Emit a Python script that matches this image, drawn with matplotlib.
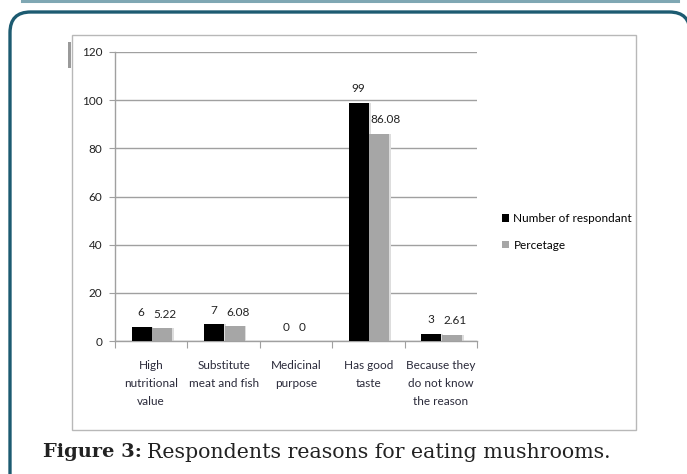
import matplotlib.pyplot as plt
import numpy as np
from matplotlib.patches import FancyBboxPatch, Rectangle
from matplotlib.lines import Line2D

# Data
categories = ["High\nnutritional\nvalue", "Substitute\nmeat and fish", "Medicinal\npurpose",
              "Has good\ntaste", "Because they\ndo not know\nthe reason"]
respondents = [6, 7, 0, 99, 3]
percentage = [5.22, 6.08, 0, 86.08, 2.61]
respondentLabels = ["6", "7", "0", "99", "3"]
percentageLabels = ["5.22", "6.08", "0", "86.08", "2.61"]
yTicks = [0, 20, 40, 60, 80, 100, 120]
seriesNames = ["Number of respondant", "Percetage"]

W, H = 687, 474
fig = plt.figure(figsize=(W / 100, H / 100), dpi=100)
fig.patch.set_facecolor("white")


def px(x, y):
    # pixel coords (top-left origin) -> figure fraction
    return x / W, 1 - y / H


# Page decorations: line from previous box and rounded teal frame
fig.add_artist(Line2D([22 / W, 678 / W], [1 - 1 / H, 1 - 1 / H], color="#7fa7b3", lw=2.2,
                      transform=fig.transFigure, zorder=-3))
box = FancyBboxPatch((10 / W, -0.05), 680 / W, 1 - 12 / H + 0.05,
                     boxstyle="round,pad=0,rounding_size=0.03", transform=fig.transFigure,
                     facecolor="white", edgecolor="#1d5b71", lw=2.4, mutation_aspect=W / H,
                     zorder=-3)
fig.add_artist(box)

# Chart image frame
fig.add_artist(Rectangle(px(72, 430), (636 - 72) / W, (430 - 35) / H, transform=fig.transFigure,
                         facecolor="white", edgecolor="#b8b8b8", lw=1.0, zorder=-2))
fig.add_artist(Rectangle(px(68, 68), 3 / W, 26 / H, transform=fig.transFigure,
                         facecolor="#9a9a9a", edgecolor="none", zorder=-2))

left, right, top, bottom = 115, 477, 52, 341
ax = fig.add_axes([left / W, 1 - bottom / H, (right - left) / W, (bottom - top) / H])
ax.set_zorder(5)
ax.patch.set_alpha(0)

chartFont = ["Lato", "DejaVu Sans"]
fs = 8.5
x = np.arange(len(categories))
w = 0.275
ax.bar(x - w / 2 + 0.005, respondents, w, color="black", label=seriesNames[0], zorder=3)
ax.bar(x + w / 2 + 0.015, percentage, w, color="#a6a6a6", label=seriesNames[1], zorder=3)
# faint shadow on bars
ax.bar(x - w / 2 + 0.03, respondents, w, color="#dddddd", zorder=2)
ax.bar(x + w / 2 + 0.04, percentage, w, color="#dddddd", zorder=2)

for i in range(len(categories)):
    ax.annotate(respondentLabels[i], (x[i] - w / 2, respondents[i]), xytext=(0, 10),
                textcoords="offset points", ha="center", va="center", fontsize=fs,
                family=chartFont, color="#222222")
    # percentage labels start at the left edge of the grey bar
    ax.annotate(percentageLabels[i], (x[i] + 0.015, percentage[i]), xytext=(1, 10),
                textcoords="offset points", ha="left", va="center", fontsize=fs,
                family=chartFont, color="#222222")

ax.set_xlim(-0.5, len(categories) - 0.5)
ax.set_ylim(0, 120)
ax.set_yticks(yTicks)
ax.set_yticklabels([str(t) for t in yTicks], family=chartFont, fontsize=fs, color="#222222")
ax.yaxis.grid(True, color="#a0a0a0", lw=1.0, zorder=0)
ax.set_axisbelow(True)
ax.tick_params(axis="y", length=4, color="#a0a0a0", pad=5)

ax.set_xticks(np.arange(len(categories) + 1) - 0.5)
ax.set_xticklabels([])
ax.tick_params(axis="x", length=5, color="#a0a0a0")
ax.set_xticks(x, minor=True)
ax.set_xticklabels(categories, minor=True, family=chartFont, fontsize=fs, color="#2a2a3a",
                   linespacing=1.75, va="top")
ax.tick_params(axis="x", which="minor", length=0, pad=14)

for s in ["top", "right"]:
    ax.spines[s].set_visible(False)
for s in ["left", "bottom"]:
    ax.spines[s].set_color("#a0a0a0")
    ax.spines[s].set_linewidth(1.0)

handles, labels = ax.get_legend_handles_labels()
fig.legend(handles[:2], labels[:2], loc="center left", bbox_to_anchor=(491 / W, 1 - 232 / H),
           frameon=False, handlelength=0.6, handleheight=0.6, handletextpad=0.4,
           labelspacing=1.3, prop={"family": chartFont, "size": fs})

# Caption
bold = fig.text(43 / W, 1 - 452 / H, "Figure 3:", family="DejaVu Serif", fontsize=14,
                fontweight="bold", va="center", ha="left", color="#222222")
renderer = fig.canvas.get_renderer()
boldEnd = bold.get_window_extent(renderer).x1
fig.text(max(144, boldEnd + 5) / W, 1 - 452 / H, "Respondents reasons for eating mushrooms.",
         family="DejaVu Serif", fontsize=14.8, va="center", ha="left", color="#222222")

fig.savefig("out.png", dpi=100)
